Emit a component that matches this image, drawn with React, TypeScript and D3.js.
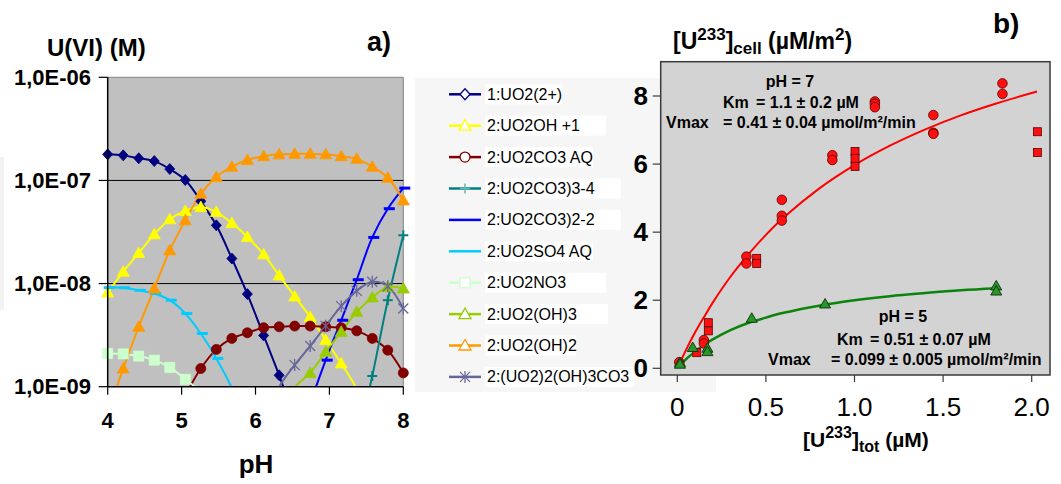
import React from 'react';
import * as d3 from 'd3';

// ---------- Panel a) data ----------
const PH = [4.0, 4.21, 4.42, 4.63, 4.84, 5.05, 5.26, 5.47, 5.68, 5.89, 6.11, 6.32, 6.53, 6.74, 6.95, 7.16, 7.37, 7.58, 7.79, 8.0];
const N = null;
const UO2_2P = [1.79e-7, 1.75e-7, 1.64e-7, 1.54e-7, 1.29e-7, 1.01e-7, 6.3e-8, 3.67e-8, 1.75e-8, 7.9e-9, 3.14e-9, 1.29e-9, 4.8e-10, N, N, N, N, N, N, N];
const UO2OH = [8.2e-9, 1.3e-8, 1.98e-8, 3.0e-8, 4.2e-8, 5.05e-8, 5.52e-8, 4.94e-8, 3.86e-8, 2.83e-8, 1.92e-8, 1.2e-8, 7.5e-9, 4.75e-9, 2.83e-9, 1.68e-9, 9.5e-10, 4e-10, N, N];
const UO2CO3 = [N, N, N, N, 4.6e-10, 8.3e-10, 1.5e-9, 2.3e-9, 2.94e-9, 3.33e-9, 3.73e-9, 3.81e-9, 3.87e-9, 3.87e-9, 3.81e-9, 3.73e-9, 3.48e-9, 2.94e-9, 2.26e-9, 1.36e-9];
const UO2CO3_3 = [N, N, N, N, N, N, N, N, N, N, N, N, N, N, N, 8e-11, 2.8e-10, 1.27e-9, 6.9e-9, 2.94e-8];
const UO2CO3_2 = [N, N, N, N, N, N, N, N, N, N, N, N, 2.5e-10, 6.9e-10, 1.81e-9, 4.41e-9, 1.09e-8, 2.8e-8, 5.32e-8, 8.43e-8];
const UO2SO4 = [9.14e-9, 9.1e-9, 8.6e-9, 8.0e-9, 6.9e-9, 5.13e-9, 3.28e-9, 1.88e-9, 9.7e-10, 4e-10, N, N, N, N, N, N, N, N, N, N];
const UO2NO3 = [2.1e-9, 2.08e-9, 1.98e-9, 1.81e-9, 1.54e-9, 1.18e-9, 8.8e-10, 5e-10, N, N, N, N, N, N, N, N, N, N, N, N];
const UO2OH3 = [N, N, N, N, N, N, N, N, N, N, N, 4.9e-10, 9.8e-10, 1.36e-9, 2.18e-9, 3.4e-9, 5.32e-9, 7.33e-9, 9.29e-9, 8.95e-9];
const UO2OH2 = [5.5e-10, 1.5e-9, 3.81e-9, 8.95e-9, 2.1e-8, 4.1e-8, 7.43e-8, 1.08e-7, 1.36e-7, 1.58e-7, 1.72e-7, 1.79e-7, 1.81e-7, 1.81e-7, 1.79e-7, 1.72e-7, 1.62e-7, 1.36e-7, 1.06e-7, 6.4e-8];
const UO2_2_OH3CO3 = [N, N, N, N, N, N, N, N, N, N, 4e-10, 9.9e-10, 1.62e-9, 2.48e-9, 3.89e-9, 6.04e-9, 8.5e-9, 1.04e-8, 9.42e-9, 5.73e-9];

const SPECIES_NAMES = ['1:UO2(2+)', '2:UO2OH +1', '2:UO2CO3 AQ', '2:UO2CO3)3-4', '2:UO2CO3)2-2', '2:UO2SO4 AQ', '2:UO2NO3', '2:UO2(OH)3', '2:UO2(OH)2', '2:(UO2)2(OH)3CO3'];
const SPECIES_VALUES = [UO2_2P, UO2OH, UO2CO3, UO2CO3_3, UO2CO3_2, UO2SO4, UO2NO3, UO2OH3, UO2OH2, UO2_2_OH3CO3];
const SPECIES_COLORS = ['#000080', '#ffff00', '#800000', '#008080', '#0000ff', '#00ccff', '#ccffcc', '#99cc00', '#ff9900', '#666699'];
const SPECIES_MARKERS = ['diamond', 'triangle', 'circle', 'plus', 'dash', 'dash', 'square', 'triangle', 'triangle', 'star'];
const LEGEND_BOX_RIGHT = [562, 606, 593, 621, 621, 593, 606, 608, 576, 634];

const Y_TICKS_A = [1e-9, 1e-8, 1e-7, 1e-6];
const Y_TICK_LABELS_A = ['1,0E-09', '1,0E-08', '1,0E-07', '1,0E-06'];
const X_TICKS_A = [4, 5, 6, 7, 8];

// ---------- Panel b) data ----------
const CIRC_X = [0.011, 0.15, 0.15, 0.39, 0.39, 0.59, 0.59, 0.59, 0.875, 0.875, 1.115, 1.115, 1.115, 1.445, 1.445, 1.445, 1.835, 1.835];
const CIRC_Y = [0.18, 0.83, 0.73, 3.28, 3.08, 4.95, 4.48, 4.34, 6.26, 6.12, 7.84, 7.77, 7.67, 7.44, 6.92, 6.89, 8.37, 8.06];
const SQ_X = [0.11, 0.175, 0.175, 0.448, 0.448, 1.003, 1.003, 1.003, 2.032, 2.032];
const SQ_Y = [0.46, 1.34, 1.1, 3.23, 3.08, 6.37, 6.17, 5.93, 6.95, 6.34];
const TRI_X = [0.015, 0.015, 0.087, 0.17, 0.17, 0.42, 0.834, 1.8, 1.8];
const TRI_Y = [0.17, 0.12, 0.61, 0.59, 0.49, 1.47, 1.89, 2.42, 2.27];
const FIT7_X = [0.02, 0.05, 0.1, 0.15, 0.2, 0.3, 0.4, 0.5, 0.6, 0.8, 1.0, 1.2, 1.4, 1.6, 1.8, 2.03];
const FIT7_Y = [0.22, 0.55, 1.05, 1.5, 1.93, 2.69, 3.34, 3.92, 4.43, 5.28, 5.97, 6.54, 7.02, 7.43, 7.78, 8.13];
const FIT5_X = [0.02, 0.05, 0.1, 0.15, 0.2, 0.3, 0.4, 0.5, 0.6, 0.8, 1.0, 1.2, 1.4, 1.6, 1.8];
const FIT5_Y = [0.11, 0.27, 0.49, 0.69, 0.85, 1.12, 1.33, 1.49, 1.63, 1.84, 2.0, 2.12, 2.21, 2.29, 2.35];
const X_TICKS_B = [0, 0.5, 1.0, 1.5, 2.0];
const X_TICK_LABELS_B = ['0', '0.5', '1.0', '1.5', '2.0'];
const Y_TICKS_B = [0, 2, 4, 6, 8];

const FONT = 'Arial, "Liberation Sans", sans-serif';

function Marker({ type, x, y, color, legend }: { type: string; x: number; y: number; color: string; legend?: boolean }) {
  const fill = legend ? '#ffffff' : color;
  const sw = legend ? 1.3 : 0.8;
  switch (type) {
    case 'diamond':
      return <path d={`M${x},${y - 5.5}L${x + 5},${y}L${x},${y + 5.5}L${x - 5},${y}Z`} fill={fill} stroke={color} strokeWidth={sw} />;
    case 'triangle':
      return <path d={`M${x},${y - 6}L${x + 6},${y + 4.5}L${x - 6},${y + 4.5}Z`} fill={fill} stroke={color} strokeWidth={sw} />;
    case 'circle':
      return <circle cx={x} cy={y} r={5} fill={fill} stroke={color} strokeWidth={sw} />;
    case 'square':
      return <rect x={x - 5} y={y - 5} width={10} height={10} fill={fill} stroke={color} strokeWidth={sw} />;
    case 'plus':
      return (
        <g stroke={legend ? '#66b3b3' : color} strokeWidth={legend ? 1.5 : 2}>
          <line x1={x - 5} x2={x + 5} y1={y} y2={y} />
          <line x1={x} x2={x} y1={y - 5} y2={y + 5} />
        </g>
      );
    case 'dash':
      return legend ? null : <rect x={x - 4} y={y - 1.5} width={11} height={3} fill={color} />;
    case 'star':
      return (
        <g stroke={color} strokeWidth={1.3}>
          <line x1={x - 5} x2={x + 5} y1={y - 5} y2={y + 5} />
          <line x1={x - 5} x2={x + 5} y1={y + 5} y2={y - 5} />
          <line x1={x} x2={x} y1={y - 6} y2={y + 6} />
        </g>
      );
    default:
      return null;
  }
}

export default function App() {
  // Panel a scales
  const xA = d3.scaleLinear().domain([4, 8]).range([107.7, 403.3]);
  const yA = d3.scaleLog().domain([1e-9, 1e-6]).range([386.7, 77.3]);
  // Panel b scales
  const xB = d3.scaleLinear().domain([0, 2]).range([677.3, 1031.7]);
  const yB = d3.scaleLinear().domain([0, 8]).range([368.3, 96]);

  const lineA = d3
    .line<[number, number | null]>()
    .defined((d) => d[1] !== null)
    .x((d) => xA(d[0]))
    .y((d) => yA(d[1] as number))
    .curve(d3.curveCatmullRom.alpha(0.5));

  const lineB = d3
    .line<[number, number]>()
    .x((d) => xB(d[0]))
    .y((d) => yB(d[1]))
    .curve(d3.curveCatmullRom.alpha(0.5));

  const fit7 = FIT7_X.map((x, i) => [x, FIT7_Y[i]] as [number, number]);
  const fit5 = FIT5_X.map((x, i) => [x, FIT5_Y[i]] as [number, number]);

  const pa = { x0: 107.7, x1: 403.3, y0: 77.3, y1: 386.7 };
  const pb = { x0: 660.7, x1: 1050, y0: 61.7, y1: 375 };

  const legendY = (i: number) => 94.3 + i * 31.4;

  return (
    <svg width={1061} height={484} style={{ position: 'absolute', left: 0, top: 0, background: '#fff' }} fontFamily={FONT}>
      <defs>
        <clipPath id="clipA">
          <rect x={pa.x0 - 2} y={pa.y0} width={pa.x1 - pa.x0 + 10} height={pa.y1 - pa.y0} />
        </clipPath>
      </defs>
      <rect x={0} y={0} width={1061} height={484} fill="#ffffff" />
      <rect x={0} y={157} width={4} height={153} fill="#f3f3f3" />

      {/* ===== Panel a ===== */}
      <rect x={pa.x0} y={pa.y0} width={pa.x1 - pa.x0} height={pa.y1 - pa.y0} fill="#c0c0c0" />
      <line x1={pa.x0} x2={pa.x1} y1={pa.y0} y2={pa.y0} stroke="#808080" strokeWidth={1} />
      <line x1={pa.x1} x2={pa.x1} y1={pa.y0} y2={pa.y1} stroke="#909090" strokeWidth={1.2} />
      {[1e-8, 1e-7].map((t) => (
        <line key={t} x1={pa.x0} x2={pa.x1} y1={yA(t)} y2={yA(t)} stroke="#000" strokeWidth={1} />
      ))}

      <g clipPath="url(#clipA)">
        {SPECIES_VALUES.map((vals, si) => (
          <path
            key={si}
            d={lineA(PH.map((p, i) => [p, vals[i]] as [number, number | null])) || ''}
            fill="none"
            stroke={SPECIES_COLORS[si]}
            strokeWidth={2}
          />
        ))}
      </g>
      {SPECIES_VALUES.map((vals, si) => (
        <g key={si}>
          {PH.map((p, i) => {
            const v = vals[i];
            if (v === null || v < 1e-9 || v > 1e-6) return null;
            return <Marker key={i} type={SPECIES_MARKERS[si]} x={xA(p)} y={yA(v)} color={SPECIES_COLORS[si]} />;
          })}
        </g>
      ))}

      {/* axes a */}
      <line x1={pa.x0} x2={pa.x0} y1={pa.y0} y2={pa.y1} stroke="#000" strokeWidth={1.5} />
      <line x1={pa.x0} x2={pa.x1} y1={pa.y1} y2={pa.y1} stroke="#000" strokeWidth={1.5} />
      {Y_TICKS_A.map((t, i) => (
        <g key={t}>
          <line x1={pa.x0 - 9} x2={pa.x0} y1={yA(t)} y2={yA(t)} stroke="#000" strokeWidth={1.2} />
          <text x={91} y={yA(t) + 7.5} textAnchor="end" fontSize={22} fontWeight="bold" fill="#000">
            {Y_TICK_LABELS_A[i]}
          </text>
        </g>
      ))}
      {X_TICKS_A.map((t) => (
        <g key={t}>
          <line x1={xA(t)} x2={xA(t)} y1={pa.y1} y2={pa.y1 + 8} stroke="#000" strokeWidth={1.2} />
          <text x={xA(t)} y={428} textAnchor="middle" fontSize={22} fontWeight="bold" fill="#000">
            {t}
          </text>
        </g>
      ))}
      <text x={47} y={56} fontSize={24} fontWeight="bold" fill="#000">U(VI) (M)</text>
      <text x={367} y={51} fontSize={27} fontWeight="bold" fill="#000">a)</text>
      <text x={256} y={473} textAnchor="middle" fontSize={26} fontWeight="bold" fill="#000">pH</text>

      {/* ===== Legend ===== */}
      <rect x={415} y={78} width={301} height={314} fill="#f6f6f6" />
      {SPECIES_NAMES.map((name, i) => {
        const y = legendY(i);
        return (
          <g key={name}>
            <rect x={485} y={y - 10} width={LEGEND_BOX_RIGHT[i] - 485} height={20} fill="#ffffff" />
            <line x1={449} x2={481} y1={y} y2={y} stroke={SPECIES_COLORS[i]} strokeWidth={2.5} />
            <Marker type={SPECIES_MARKERS[i]} x={465} y={y} color={SPECIES_COLORS[i]} legend />
            <text x={487} y={y + 5.5} fontSize={16} fill="#000">{name}</text>
          </g>
        );
      })}

      {/* ===== Panel b ===== */}
      <rect x={pb.x0} y={pb.y0} width={pb.x1 - pb.x0} height={pb.y1 - pb.y0} fill="#d3d3d3" stroke="#3a3a3a" strokeWidth={1.5} />
      <path d={lineB(fit7) || ''} fill="none" stroke="#ff0000" strokeWidth={2} />
      <path d={lineB(fit5) || ''} fill="none" stroke="#0c840c" strokeWidth={2.5} />
      {CIRC_X.map((x, i) => (
        <circle key={'c' + i} cx={xB(x)} cy={yB(CIRC_Y[i])} r={4.8} fill="#ff1010" stroke="#5a0000" strokeWidth={0.8} />
      ))}
      {SQ_X.map((x, i) => (
        <rect key={'s' + i} x={xB(x) - 4} y={yB(SQ_Y[i]) - 4} width={8} height={8} fill="#ff1010" stroke="#5a0000" strokeWidth={0.8} />
      ))}
      {TRI_X.map((x, i) => {
        const cx = xB(x);
        const cy = yB(TRI_Y[i]);
        return (
          <path key={'t' + i} d={`M${cx},${cy - 5.5}L${cx + 5.5},${cy + 4}L${cx - 5.5},${cy + 4}Z`} fill="#2a962a" stroke="#0a300a" strokeWidth={0.9} />
        );
      })}

      {Y_TICKS_B.map((t) => (
        <g key={t}>
          <line x1={pb.x0 - 8} x2={pb.x0} y1={yB(t)} y2={yB(t)} stroke="#3a3a3a" strokeWidth={1.2} />
          <text x={648} y={yB(t) + 9} textAnchor="end" fontSize={26} fontWeight="bold" fill="#000">{t}</text>
        </g>
      ))}
      {X_TICKS_B.map((t, i) => (
        <g key={t}>
          <line x1={xB(t)} x2={xB(t)} y1={pb.y1} y2={pb.y1 + 7} stroke="#3a3a3a" strokeWidth={1.2} />
          <text x={xB(t)} y={416} textAnchor="middle" fontSize={26} fill="#000">{X_TICK_LABELS_B[i]}</text>
        </g>
      ))}

      <text x={673} y={49} fontSize={23} fontWeight="bold" fill="#000">
        [U<tspan fontSize={17} dy={-9}>233</tspan>
        <tspan dy={9}>]</tspan>
        <tspan fontSize={17} dy={5}>cell</tspan>
        <tspan dy={-5}> (µM/m</tspan>
        <tspan fontSize={17} dy={-9}>2</tspan>
        <tspan dy={9}>)</tspan>
      </text>
      <text x={993} y={33} fontSize={28} fontWeight="bold" fill="#000">b)</text>
      <text x={803} y={447} fontSize={21} fontWeight="bold" fill="#000">
        [U<tspan fontSize={16} dy={-9}>233</tspan>
        <tspan dy={9}>]</tspan>
        <tspan fontSize={16} dy={5}>tot</tspan>
        <tspan dy={-5}> (µM)</tspan>
      </text>

      <g fontSize={16} fontWeight="bold" fill="#000">
        <text x={790} y={87} textAnchor="middle">pH = 7</text>
        <text x={723} y={108}>Km</text>
        <text x={756} y={108}>= 1.1 ± 0.2 µM</text>
        <text x={666} y={128}>Vmax</text>
        <text x={723} y={128}>= 0.41 ± 0.04 µmol/m²/min</text>
        <text x={903} y={322} textAnchor="middle">pH = 5</text>
        <text x={837} y={345}>Km</text>
        <text x={870} y={345}>= 0.51 ± 0.07 µM</text>
        <text x={768} y={365}>Vmax</text>
        <text x={831} y={365}>= 0.099 ± 0.005 µmol/m²/min</text>
      </g>
    </svg>
  );
}
